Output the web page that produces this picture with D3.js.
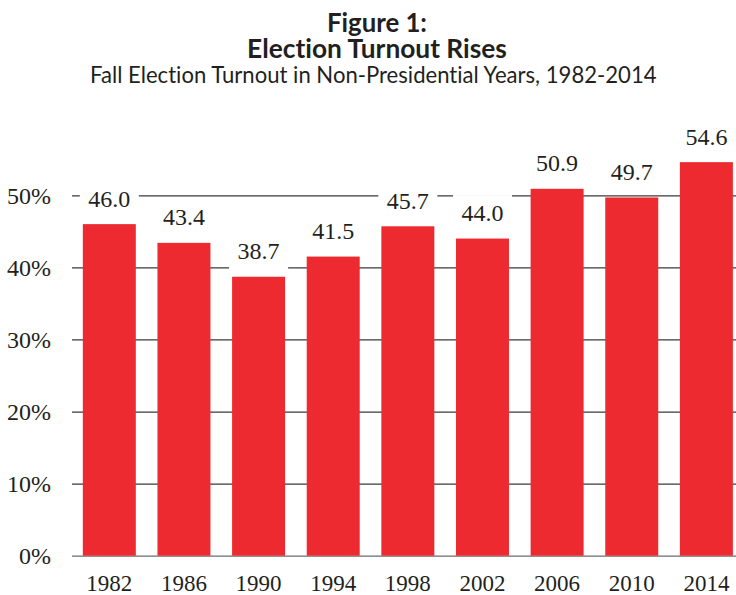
<!DOCTYPE html>
<html>
<head>
<meta charset="utf-8">
<script src="https://cdn.jsdelivr.net/npm/d3@7"></script>
<style>
  html, body { margin: 0; padding: 0; background: #fff; }
  svg { display: block; }
</style>
</head>
<body>
<svg id="chart" width="736" height="595"></svg>
<script>
const years = ["1982", "1986", "1990", "1994", "1998", "2002", "2006", "2010", "2014"];
const turnout = [46.0, 43.4, 38.7, 41.5, 45.7, 44.0, 50.9, 49.7, 54.6];
const yTicks = [0, 10, 20, 30, 40, 50];
const titleLines = ["Figure 1:", "Election Turnout Rises"];
const subtitle = "Fall Election Turnout in Non-Presidential Years, 1982-2014";

const data = years.map((y, i) => ({ year: y, value: turnout[i] }));

const svg = d3.select("#chart");
const W = 736, H = 595;
const left = 72, right = 743.7;
const y0 = 555.7, y50 = 195.3;

const x = d3.scaleBand().domain(years).range([left, right]).paddingInner(0.29).paddingOuter(0.145);
const y = d3.scaleLinear().domain([0, 50]).range([y0, y50]);

const SERIF = '"Liberation Serif", serif';
const SANS = '"Lato", "Open Sans", sans-serif';

function fit(sel, target) {
  const w = sel.node().getComputedTextLength();
  const fs = parseFloat(sel.style("font-size"));
  sel.style("font-size", (fs * target / w) + "px");
}

// titles
const tcx = 377;
const t1 = svg.append("text").attr("x", tcx).attr("y", 31.7).attr("text-anchor", "middle")
  .style("font-family", SANS).style("font-weight", "bold").style("font-size", "22px").attr("fill", "#231f20")
  .style("font-variant-ligatures", "none")
  .text(titleLines[0]);
fit(t1, 100);
const t2 = svg.append("text").attr("x", tcx).attr("y", 58.3).attr("text-anchor", "middle")
  .style("font-family", SANS).style("font-weight", "bold").style("font-size", "22px").attr("fill", "#231f20")
  .style("font-variant-ligatures", "none")
  .text(titleLines[1]);
fit(t2, 260);
const t3 = svg.append("text").attr("x", 373.3).attr("y", 83.3).attr("text-anchor", "middle")
  .style("font-family", SANS).style("font-size", "22px").attr("fill", "#231f20")
  .style("font-variant-ligatures", "none")
  .text(subtitle);
fit(t3, 566.7);

// gridlines + y labels
const yAxis = d3.axisLeft(y).tickValues(yTicks).tickSize(-(W - left)).tickPadding(21)
  .tickFormat(d => d + "%");
const gy = svg.append("g").attr("transform", `translate(${left},0)`).call(yAxis)
  .attr("font-family", null).attr("font-size", null);
gy.select(".domain").remove();
gy.selectAll(".tick line").attr("stroke", d => d === 0 ? "#6d6d6d" : "#3a3a3a").attr("stroke-width", 1.2);
gy.selectAll(".tick text").style("font-family", SERIF).style("font-size", "24px").attr("fill", "#231f20")
  .attr("dy", "0.34em");

// bars
svg.append("g").selectAll("rect").data(data).join("rect")
  .attr("x", d => x(d.year))
  .attr("y", d => y(d.value))
  .attr("width", x.bandwidth())
  .attr("height", d => y(0) - y(d.value))
  .attr("fill", "#ed2a30");

// label backgrounds + value labels
const lg = svg.append("g");
lg.selectAll("rect").data(data).join("rect")
  .attr("x", d => x(d.year) + x.bandwidth() / 2 - 29.5)
  .attr("y", d => y(d.value) - 43.5)
  .attr("width", 59)
  .attr("height", 36.5)
  .attr("fill", "#fff");
lg.selectAll("text").data(data).join("text")
  .attr("x", d => x(d.year) + x.bandwidth() / 2)
  .attr("y", d => y(d.value) - 17.5)
  .attr("text-anchor", "middle")
  .style("font-family", SERIF).style("font-size", "24px").attr("fill", "#231f20")
  .text(d => d.value.toFixed(1));

// x labels
const xAxis = d3.axisBottom(x).tickSize(0).tickPadding(0);
const gx = svg.append("g").attr("transform", `translate(0,${y0})`).call(xAxis)
  .attr("font-family", null).attr("font-size", null);
gx.select(".domain").remove();
gx.selectAll(".tick text").style("font-family", SERIF).style("font-size", "23px").attr("fill", "#231f20")
  .attr("dy", null).attr("y", 35);
</script>
</body>
</html>
